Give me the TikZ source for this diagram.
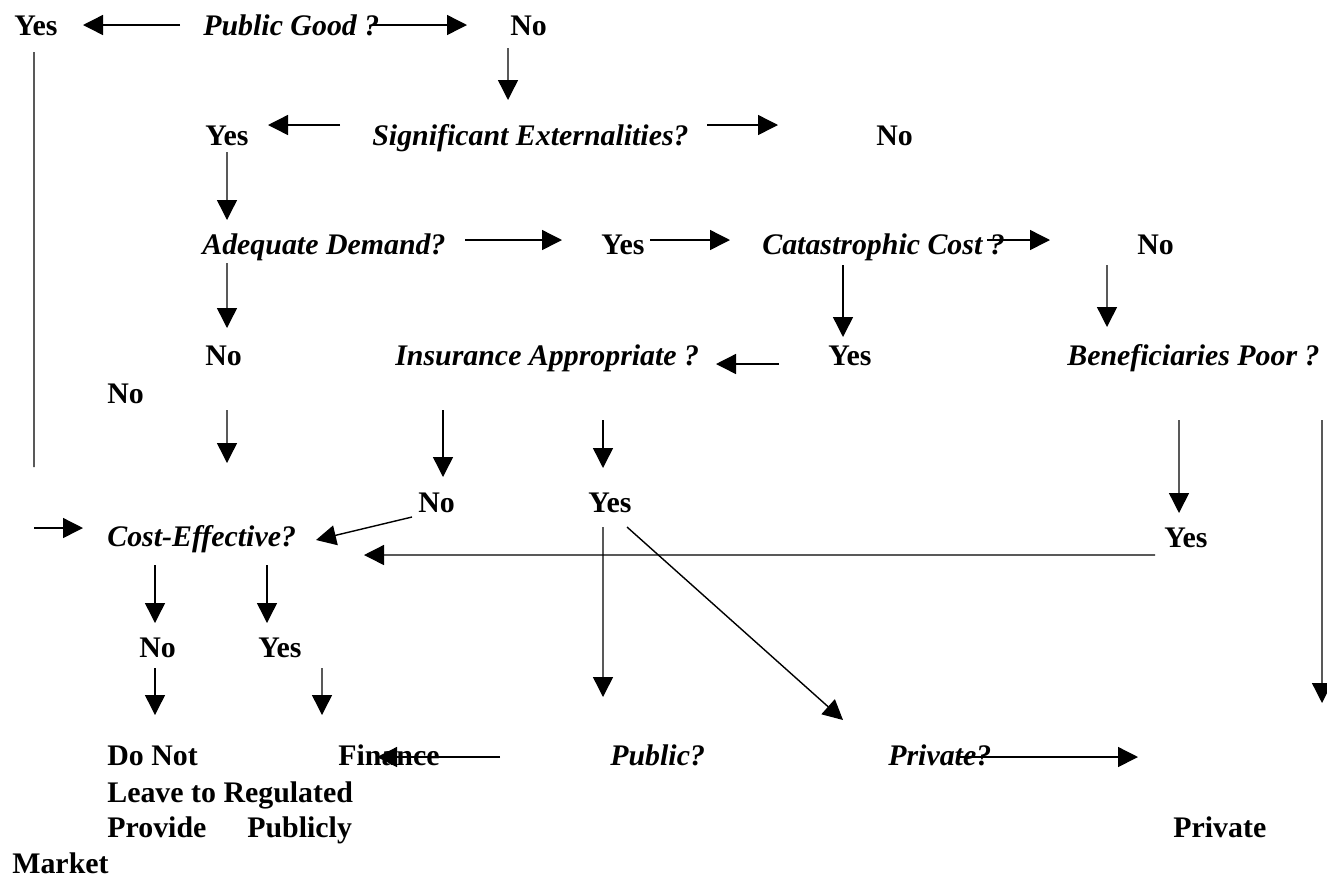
\documentclass[tikz,border=0pt]{standalone}
\usepackage{fontspec}
\setmainfont{Liberation Serif}
\usetikzlibrary{arrows.meta}

\begin{document}
\begin{tikzpicture}[
  >={Triangle[length=0.4cm, width=0.4cm]},
  ans/.style={anchor=base west, inner sep=0pt, font=\fontsize{17}{20}\selectfont\bfseries},
  ques/.style={anchor=base west, inner sep=0pt, font=\fontsize{17}{20}\selectfont\bfseries\itshape},
  arr/.style={->, line width=0.8pt},
  link/.style={-, line width=0.8pt},
]
\useasboundingbox (0,0) rectangle (26.54,-17.54);

% questions and answers
\node[ans] (yesPG) at (0.28, -0.70) {Yes};
\node[ques] (pg) at (4.06, -0.70) {Public Good ?};
\node[ans] (noPG) at (10.20, -0.70) {No};
\node[ans] (yesSE) at (4.10, -2.90) {Yes};
\node[ques] (se) at (7.44, -2.90) {Significant Externalities?};
\node[ans] (noSE) at (17.52, -2.90) {No};
\node[ques] (ad) at (4.04, -5.08) {Adequate Demand?};
\node[ans] (yesAD) at (12.02, -5.08) {Yes};
\node[ques] (cc) at (15.24, -5.08) {Catastrophic Cost ?};
\node[ans] (noCC) at (22.74, -5.08) {No};
\node[ans] (noAD) at (4.10, -7.30) {No};
\node[ques] (ia) at (7.90, -7.30) {Insurance Appropriate ?};
\node[ans] (yesCC) at (16.56, -7.30) {Yes};
\node[ques] (bp) at (21.34, -7.30) {Beneficiaries Poor ?};
\node[ans] (noBP) at (2.14, -8.06) {No};
\node[ans] (noIA) at (8.36, -10.24) {No};
\node[ans] (yesIA) at (11.76, -10.24) {Yes};
\node[ques] (ce) at (2.14, -10.92) {Cost-Effective?};
\node[ans] (yesBP) at (23.28, -10.94) {Yes};
\node[ans] (noCE) at (2.78, -13.14) {No};
\node[ans] (yesCE) at (5.16, -13.14) {Yes};

% outcomes
\node[ans] (doNot) at (2.14, -15.30) {Do Not};
\node[ans] (finance) at (6.76, -15.30) {Finance};
\node[ques] (pub) at (12.20, -15.30) {Public?};
\node[ques] (priv) at (17.76, -15.30) {Private?};
\node[ans] (leave) at (2.14, -16.04) {Leave to Regulated};
\node[ans] (provide) at (2.14, -16.74) {Provide};
\node[ans] (publicly) at (4.94, -16.74) {Publicly};
\node[ans] (private) at (23.46, -16.74) {Private};
\node[ans] (market) at (0.24, -17.46) {Market};

\coordinate (drop) at (0.68, -9.34);

\draw[arr] ([shift={(-0.46,0.20)}]pg.base west) -- ([shift={(1.38,0.20)}]yesPG.base west);
\draw[arr] ([shift={(3.38,0.20)}]pg.base west) -- ([shift={(-0.86,0.20)}]noPG.base west);
\draw[link] ([shift={(0.40,-0.34)}]yesPG.base west) -- (drop);
\draw[arr] ([shift={(-0.04,-0.26)}]noPG.base west) -- ([shift={(2.72,0.90)}]se.base west);

\draw[arr] ([shift={(-0.64,0.40)}]se.base west) -- ([shift={(1.26,0.40)}]yesSE.base west);
\draw[arr] ([shift={(6.70,0.40)}]se.base west) -- ([shift={(-1.96,0.40)}]noSE.base west);
\draw[arr] ([shift={(0.44,-0.14)}]yesSE.base west) -- ([shift={(0.50,0.68)}]ad.base west);

\draw[arr] ([shift={(5.26,0.28)}]ad.base west) -- ([shift={(-0.78,0.28)}]yesAD.base west);
\draw[arr] ([shift={(0.98,0.28)}]yesAD.base west) -- ([shift={(-0.64,0.28)}]cc.base west);
\draw[arr] ([shift={(4.50,0.28)}]cc.base west) -- ([shift={(-1.74,0.28)}]noCC.base west);
\draw[arr] ([shift={(0.50,-0.18)}]ad.base west) -- ([shift={(0.44,0.74)}]noAD.base west);
\draw[arr] ([shift={(1.62,-0.22)}]cc.base west) -- ([shift={(0.30,0.56)}]yesCC.base west);
\draw[arr] ([shift={(-0.60,-0.22)}]noCC.base west) -- ([shift={(0.80,0.76)}]bp.base west);

\draw[arr] ([shift={(-0.98,0.02)}]yesCC.base west) -- ([shift={(6.42,0.02)}]ia.base west);
\draw[arr] ([shift={(0.44,-0.90)}]noAD.base west) -- ([shift={(2.40,1.66)}]ce.base west);
\draw[arr] ([shift={(0.96,-0.90)}]ia.base west) -- ([shift={(0.50,0.70)}]noIA.base west);
\draw[arr] ([shift={(4.16,-1.10)}]ia.base west) -- ([shift={(0.30,0.88)}]yesIA.base west);
\draw[arr] ([shift={(2.24,-1.10)}]bp.base west) -- ([shift={(0.30,0.68)}]yesBP.base west);
\draw[arr] ([shift={(5.10,-1.10)}]bp.base west) -- ([shift={(2.98,2.68)}]private.base west);

\draw[arr] ([yshift=-1.22cm]drop) -- ([shift={(-0.48,0.36)}]ce.base west);
\draw[arr] ([shift={(-0.12,-0.10)}]noIA.base west) -- ([shift={(4.18,0.12)}]ce.base west);
\draw[arr] ([shift={(-0.18,-0.16)}]yesBP.base west) -- ([shift={(5.14,-0.18)}]ce.base west);
\draw[arr] ([shift={(0.30,-0.30)}]yesIA.base west) -- ([shift={(-0.14,1.36)}]pub.base west);
\draw[arr] ([shift={(0.78,-0.30)}]yesIA.base west) -- ([shift={(-0.90,0.90)}]priv.base west);

\draw[arr] ([shift={(0.96,-0.38)}]ce.base west) -- ([shift={(0.32,0.68)}]noCE.base west);
\draw[arr] ([shift={(3.20,-0.38)}]ce.base west) -- ([shift={(0.18,0.68)}]yesCE.base west);
\draw[arr] ([shift={(0.32,-0.22)}]noCE.base west) -- ([shift={(0.96,1.00)}]doNot.base west);
\draw[arr] ([shift={(1.28,-0.22)}]yesCE.base west) -- ([shift={(-0.32,1.00)}]finance.base west);

\draw[arr] ([shift={(-2.20,0.16)}]pub.base west) -- ([shift={(0.78,0.16)}]finance.base west);
\draw[arr] ([shift={(1.44,0.16)}]priv.base west) -- ([shift={(-0.70,1.60)}]private.base west);

\end{tikzpicture}
\end{document}
